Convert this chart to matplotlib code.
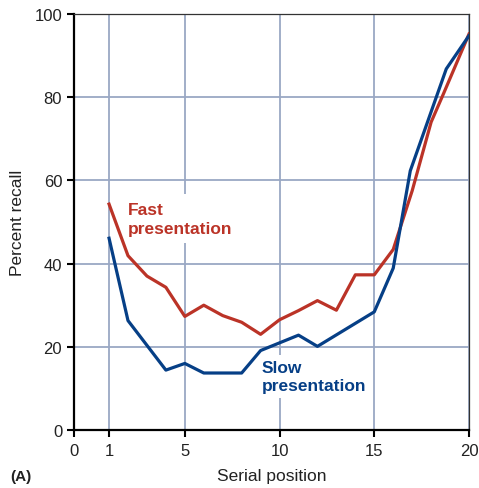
"""
Serial position curves for fast and slow presentation rates.
"""

import matplotlib
matplotlib.use("Agg")
import matplotlib.pyplot as plt
import numpy as np

# values
fast_pos = [1, 2, 3, 4, 5, 6, 7, 8, 9, 10, 11, 12, 13, 14, 15, 16, 17, 18, 18.65, 20]
fast_recall = [54.3, 41.9, 37.0, 34.3, 27.3, 30.0, 27.5, 25.9, 23.0, 26.5,
               28.7, 31.1, 28.8, 37.3, 37.3, 43.4, 57.5, 74.0, 80.8, 95.2]

slow_pos = [1, 2, 4, 5, 6, 8, 9, 11, 12, 15, 16, 16.9, 18.8, 20]
slow_recall = [46.1, 26.3, 14.4, 16.0, 13.7, 13.7, 19.1, 22.8, 20.1,
               28.4, 38.9, 62.3, 86.8, 94.8]

x_ticks = [0, 1, 5, 10, 15, 20]
y_ticks = [0, 20, 40, 60, 80, 100]

RED = "#bb3327"
BLUE = "#063f86"
GRID = "#9aa8c4"

plt.rcParams["font.family"] = ["Liberation Sans", "DejaVu Sans"]


# the gap between 0 and 1 on the x axis is drawn wider than the others
def fwd(x):
    return np.interp(np.asarray(x, dtype=float), [0, 1, 20], [0, 1.85, 20.85])


def inv(x):
    return np.interp(np.asarray(x, dtype=float), [0, 1.85, 20.85], [0, 1, 20])


def make_chart():
    fig = plt.figure(figsize=(4.79, 4.89), dpi=100)
    ax = fig.add_axes([74 / 479, 1 - 431 / 489, 395 / 479, 416 / 489])

    ax.set_xscale("function", functions=(fwd, inv))
    ax.set_xlim(0, 20)
    ax.set_ylim(0, 100)
    ax.set_xticks(x_ticks)
    ax.set_xticklabels([str(t) for t in x_ticks])
    ax.set_yticks(y_ticks)
    ax.minorticks_off()

    ax.set_axisbelow(True)
    ax.grid(True, color=GRID, linewidth=1.3)

    ax.plot(fast_pos, fast_recall, color=RED, linewidth=2.3, zorder=3)
    ax.plot(slow_pos, slow_recall, color=BLUE, linewidth=2.3, zorder=3)

    ax.text(2.0, 54.8, "Fast\npresentation", color=RED, fontsize=12.5,
            fontweight="bold", ha="left", va="top", linespacing=1.3,
            bbox=dict(facecolor="white", edgecolor="none",
                      boxstyle="square,pad=0.45"),
            zorder=1.5)
    ax.text(9.05, 16.8, "Slow\npresentation", color=BLUE, fontsize=12.5,
            fontweight="bold", ha="left", va="top", linespacing=1.2,
            bbox=dict(facecolor="white", edgecolor="none",
                      boxstyle="square,pad=0.3"),
            zorder=1.5)

    for side in ("left", "bottom"):
        ax.spines[side].set_linewidth(1.6)
        ax.spines[side].set_color("black")
    for side in ("top", "right"):
        ax.spines[side].set_linewidth(0.9)
        ax.spines[side].set_color("#333333")

    ax.tick_params(axis="both", direction="out", length=5, width=1.5,
                   labelsize=12, colors="black", labelcolor="#222222")
    ax.tick_params(axis="x", pad=4.5)
    ax.tick_params(top=False, right=False)

    ax.set_xlabel("Serial position", fontsize=12.5, color="#222222")
    ax.set_ylabel("Percent recall", fontsize=12.5, color="#222222")
    ax.xaxis.set_label_coords(0.5, -0.092)
    ax.yaxis.set_label_coords(-0.125, 0.5)

    fig.text(10 / 479, 1 - 477 / 489, "(A)", fontsize=11, fontweight="bold",
             ha="left", va="center", color="#222222")

    fig.savefig("out.png", dpi=100)


if __name__ == "__main__":
    make_chart()
